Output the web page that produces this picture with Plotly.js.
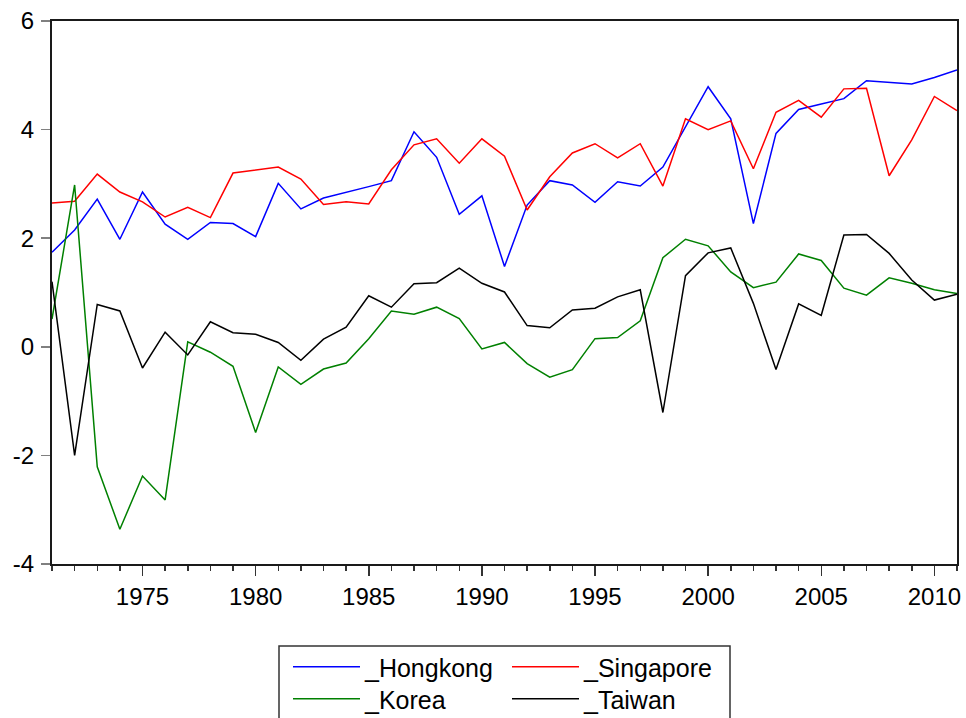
<!DOCTYPE html>
<html>
<head>
<meta charset="utf-8">
<script src="https://cdn.plot.ly/plotly-3.0.1.min.js"></script>
<style>html,body{margin:0;padding:0;background:#fff;}#chart{width:966px;height:718px;}</style>
</head>
<body>
<div id="chart"></div>
<script>
const years = [1971,1972,1973,1974,1975,1976,1977,1978,1979,1980,1981,1982,1983,1984,1985,1986,1987,1988,1989,1990,1991,1992,1993,1994,1995,1996,1997,1998,1999,2000,2001,2002,2003,2004,2005,2006,2007,2008,2009,2010,2011];
const hongkong = [1.74,2.15,2.72,1.98,2.85,2.26,1.98,2.29,2.27,2.03,3.01,2.54,2.74,2.84,2.95,3.06,3.96,3.49,2.44,2.78,1.48,2.61,3.06,2.98,2.66,3.04,2.96,3.31,4.05,4.79,4.20,2.27,3.93,4.37,4.47,4.57,4.90,4.87,4.84,4.96,5.10];
const singapore = [2.65,2.68,3.18,2.85,2.67,2.39,2.57,2.38,3.20,3.26,3.31,3.09,2.62,2.67,2.63,3.26,3.72,3.83,3.38,3.83,3.51,2.52,3.13,3.57,3.74,3.48,3.74,2.96,4.20,4.00,4.16,3.28,4.32,4.54,4.23,4.75,4.76,3.15,3.81,4.61,4.35];
const korea = [0.51,2.98,-2.21,-3.36,-2.38,-2.82,0.09,-0.10,-0.36,-1.58,-0.37,-0.69,-0.41,-0.30,0.15,0.66,0.60,0.73,0.52,-0.04,0.08,-0.31,-0.56,-0.42,0.15,0.17,0.48,1.64,1.98,1.86,1.38,1.09,1.19,1.71,1.59,1.08,0.95,1.27,1.17,1.05,0.98];
const taiwan = [1.20,-2.00,0.78,0.66,-0.39,0.27,-0.15,0.46,0.26,0.23,0.08,-0.25,0.14,0.36,0.94,0.73,1.16,1.18,1.45,1.17,1.01,0.39,0.35,0.68,0.71,0.92,1.05,-1.21,1.31,1.73,1.82,0.80,-0.42,0.79,0.58,2.06,2.07,1.72,1.23,0.86,0.97];
const seriesNames = ['_Hongkong','_Singapore','_Korea','_Taiwan'];
const yTickVals = [-4,-2,0,2,4,6];
const yTickText = ['-4','-2','0','2','4','6'];
const xTickVals = [1975,1980,1985,1990,1995,2000,2005,2010];
const xTickText = ['1975','1980','1985','1990','1995','2000','2005','2010'];

const seriesData = [hongkong, singapore, korea, taiwan];
const colors = ['#0000ff','#ff0000','#008000','#000000'];
const legendIds = ['legend','legend2','legend3','legend4'];

const traces = seriesData.map((vals, i) => ({
  x: years, y: vals, type: 'scatter', mode: 'lines',
  name: seriesNames[i],
  line: {color: colors[i], width: 1.5},
  legend: legendIds[i],
  showlegend: true
}));

const M = {l: 52, r: 9, t: 21, b: 154};
const W = 966, H = 718;
const pw = W - M.l - M.r, ph = H - M.t - M.b;
const px2x = p => (p - M.l) / pw;
const px2y = p => (H - M.b - p) / ph;

function legendAt(xpx, ypx) {
  return {
    x: px2x(xpx), y: px2y(ypx), xanchor: 'left', yanchor: 'middle',
    xref: 'paper', yref: 'paper',
    bgcolor: 'rgba(0,0,0,0)', borderwidth: 0,
    font: {family: 'Arial, "Liberation Sans", sans-serif', size: 25, color: '#000'},
    itemwidth: 67, orientation: 'v'
  };
}

const layout = {
  width: W, height: H,
  margin: {l: M.l, r: M.r, t: M.t, b: M.b, autoexpand: false},
  paper_bgcolor: '#fff', plot_bgcolor: '#fff',
  font: {family: 'Arial, "Liberation Sans", sans-serif', size: 24, color: '#000'},
  xaxis: {
    range: [1971, 2011], showgrid: false, zeroline: false,
    showline: true, linecolor: '#1a1a1a', linewidth: 2, mirror: true,
    tickmode: 'array', tickvals: xTickVals, ticktext: xTickText,
    ticks: 'outside', ticklen: 10, tickwidth: 1.5, tickcolor: '#333',
    ticklabelstandoff: 0,
    minor: {dtick: 1, tick0: 1971, ticks: 'outside', ticklen: 5, tickwidth: 1.5, tickcolor: '#333', showgrid: false},
    tickfont: {size: 24}
  },
  yaxis: {
    range: [-4, 6], showgrid: false, zeroline: false,
    showline: true, linecolor: '#1a1a1a', linewidth: 2, mirror: true,
    tickmode: 'array', tickvals: yTickVals, ticktext: yTickText,
    ticks: 'outside', ticklen: 9, tickwidth: 1.5, tickcolor: '#808080',
    ticklabelstandoff: 2,
    tickfont: {size: 24}
  },
  legend: legendAt(288, 667),
  legend2: legendAt(507, 667),
  legend3: legendAt(288, 699),
  legend4: legendAt(507, 699),
  shapes: [{
    type: 'rect', xref: 'paper', yref: 'paper',
    x0: px2x(279), x1: px2x(730), y0: px2y(646), y1: px2y(730),
    line: {color: '#333', width: 1.5}, fillcolor: 'rgba(0,0,0,0)'
  }]
};

Plotly.newPlot('chart', [traces[0], traces[1], traces[2], traces[3]], layout, {displayModeBar: false, staticPlot: true});
</script>
</body>
</html>
